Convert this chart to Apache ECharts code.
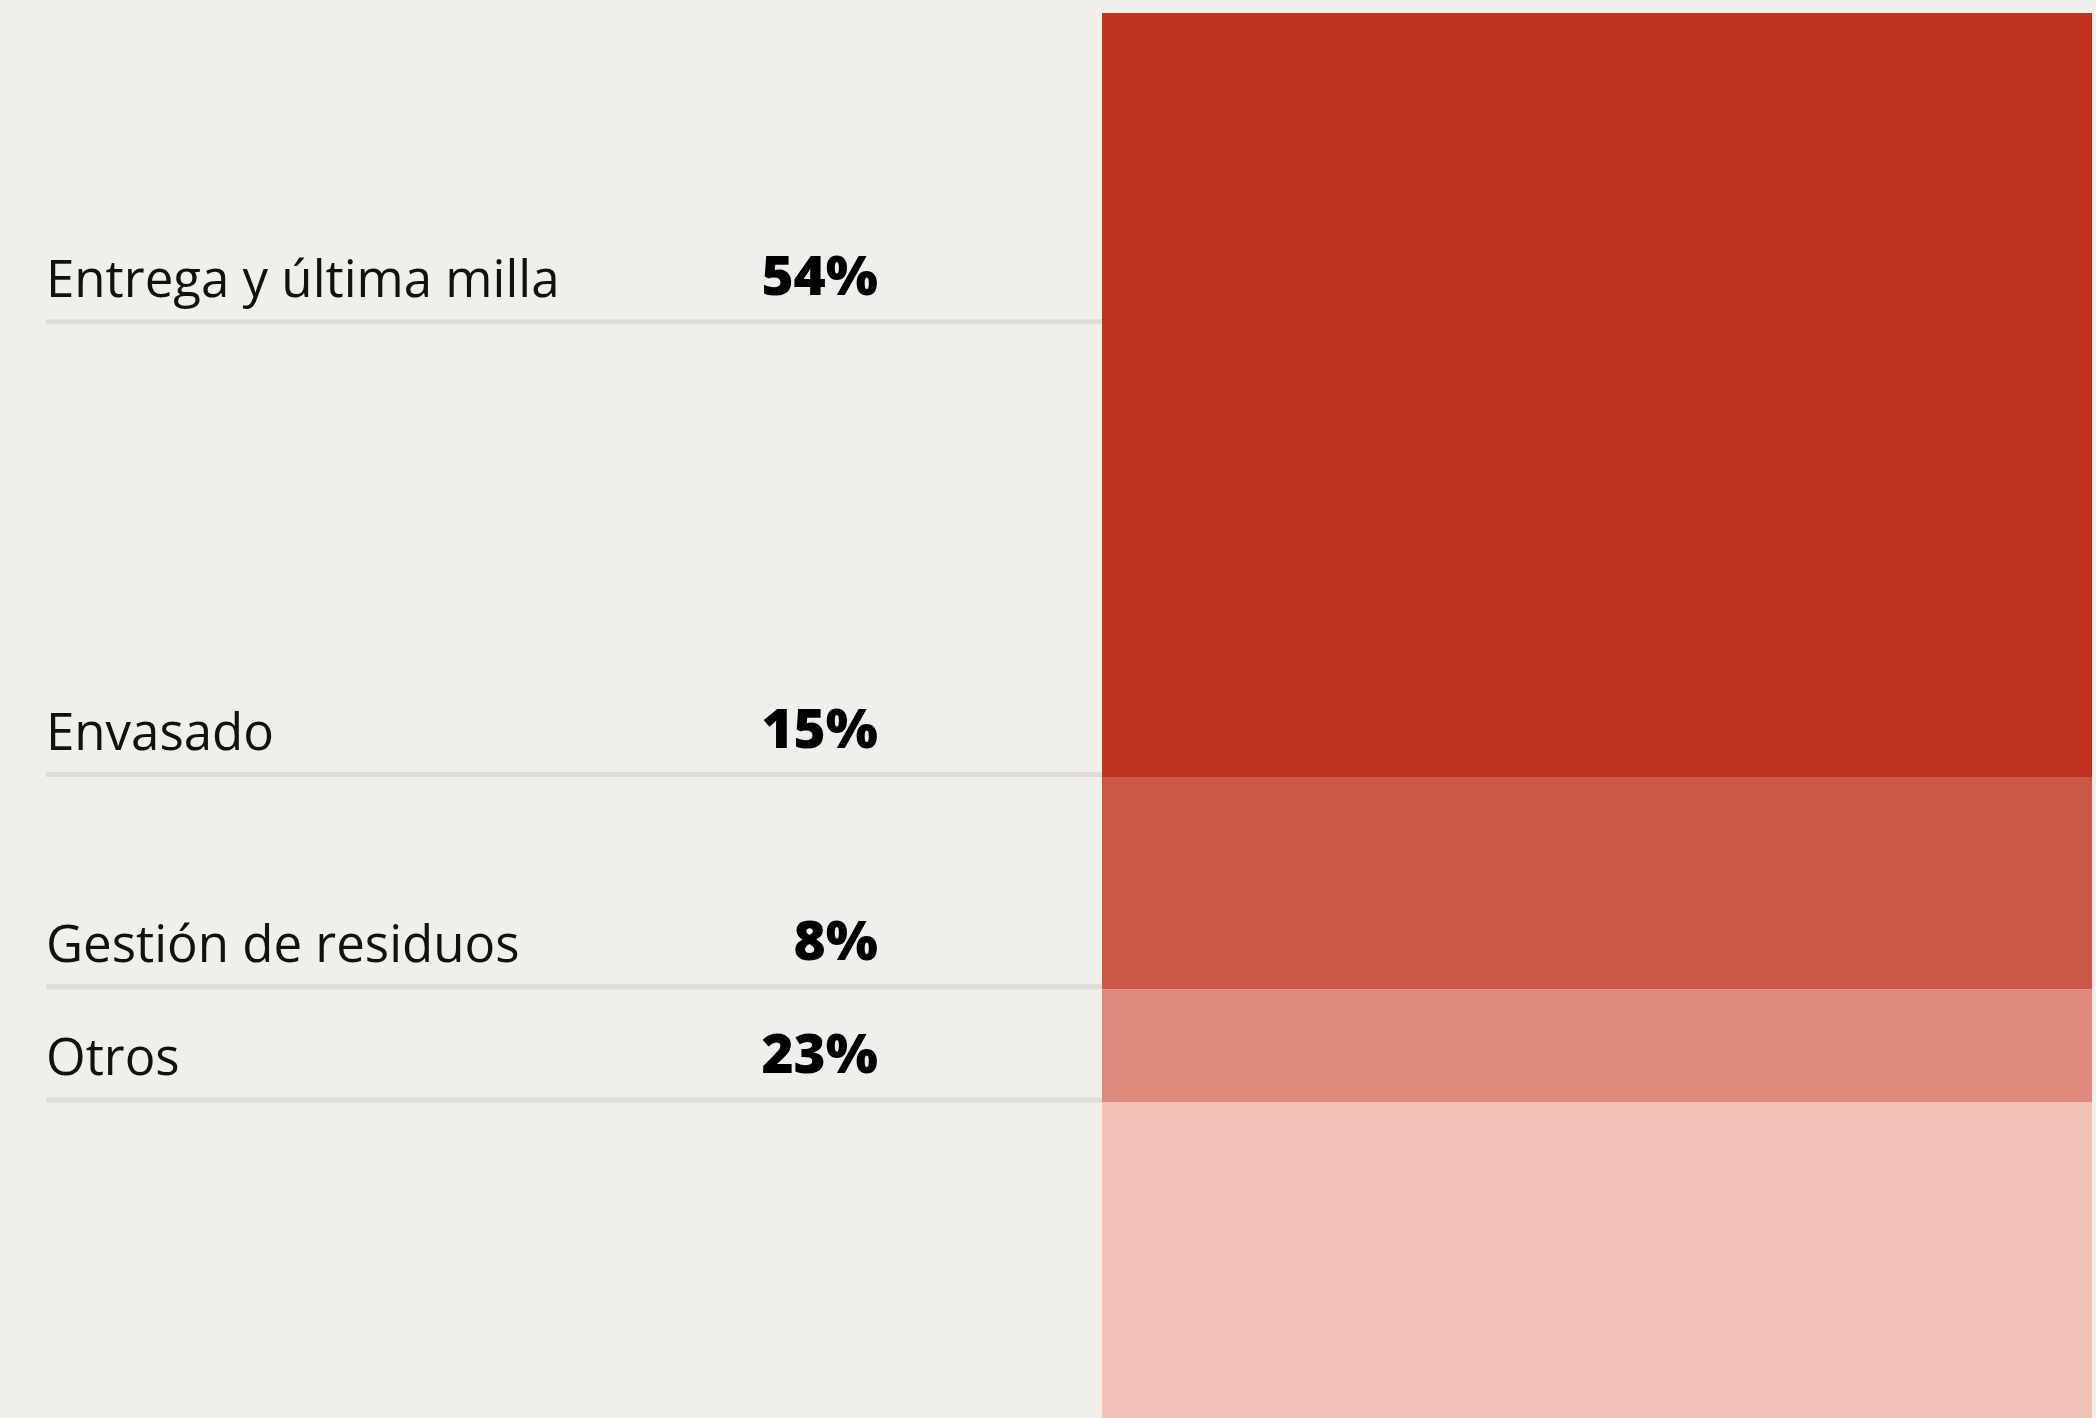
<!DOCTYPE html>
<html>
<head>
<meta charset="utf-8">
<script src="https://cdn.jsdelivr.net/npm/echarts@6/dist/echarts.min.js"></script>
<style>
  html, body { margin: 0; padding: 0; background: #f0efea; }
  #main { width: 2096px; height: 1418px; }
</style>
</head>
<body>
<div id="main"></div>
<script>
  // datos
  let categories = ['Entrega y última milla', 'Envasado', 'Gestión de residuos', 'Otros'];
  let values = [54, 15, 8, 23];
  // nivel (en %) donde va la línea de cada fila
  let rowAnchor = [22, 54, 69, 77];
  let colors = ['#be3220', '#cb5946', '#de8b7d', '#f1c2b5'];

  let myChart = echarts.init(document.getElementById('main'));

  let series = [];
  for (let i = 0; i < categories.length; i++) {
    series.push({
      name: categories[i],
      type: 'bar',
      stack: 'total',
      barWidth: '100%',
      silent: true,
      itemStyle: { color: colors[i] },
      data: [values[i]]
    });
  }

  let option = {
    backgroundColor: '#f0efea',
    animation: false,
    // la barra sigue un poco por debajo del borde inferior
    grid: { left: 1102, right: 4, top: 13, height: 1415, outerBoundsMode: 'none' },
    xAxis: { type: 'category', data: ['total'], show: false },
    yAxis: { type: 'value', min: 0, max: 100, inverse: true, show: false },
    series: series
  };
  myChart.setOption(option);

  // filas de la izquierda: etiqueta, línea y porcentaje
  let graphics = [];
  for (let i = 0; i < categories.length; i++) {
    let y = myChart.convertToPixel({ yAxisIndex: 0 }, rowAnchor[i]);
    graphics.push({
      type: 'rect',
      shape: { x: 46, y: y - 5, width: 1056, height: 5 },
      style: { fill: '#e0dcd7' }
    });
    graphics.push({
      type: 'text',
      x: 46, y: y - 42,
      style: {
        text: categories[i],
        font: '400 51px "Open Sans"',
        fill: '#111',
        verticalAlign: 'middle',
        align: 'left'
      }
    });
    graphics.push({
      type: 'text',
      x: 878, y: y - 45,
      style: {
        text: values[i] + '%',
        font: '800 55px "Open Sans"',
        fill: '#000',
        verticalAlign: 'middle',
        align: 'right'
      }
    });
  }
  myChart.setOption({ graphic: graphics });
</script>
</body>
</html>
